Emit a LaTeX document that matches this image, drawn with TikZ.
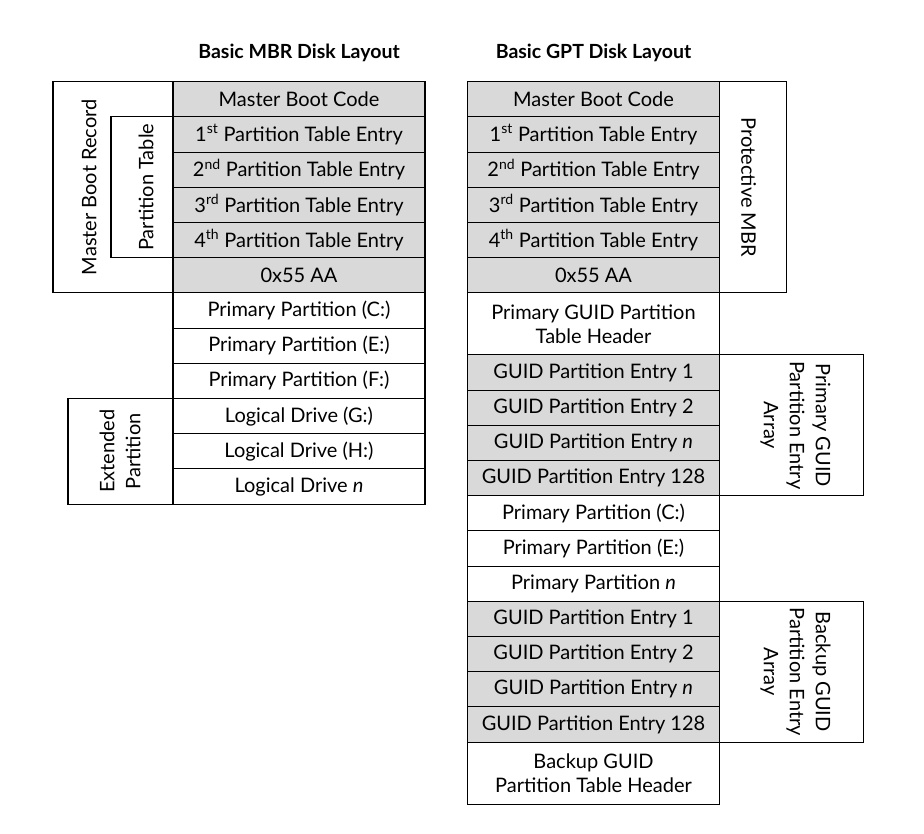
\documentclass[tikz,border=0pt]{standalone}
\usepackage{fontspec}
\setmainfont{Lato}
\usetikzlibrary{positioning,calc}

\begin{document}
\begin{tikzpicture}[x=1pt,y=-1pt,
		row/.style={rectangle, draw=black, line width=1.1pt, outer sep=0pt, inner sep=0pt,
			minimum width=252pt, minimum height=35.2pt, align=center,
			font=\fontsize{20}{24}\selectfont},
		grey/.style={row, fill=black!15},
		tall/.style={row, minimum height=62pt},
		side/.style={draw=black, line width=1.1pt},
		sidetext/.style={align=center, font=\fontsize{20}{26}\selectfont},
		title/.style={font=\bfseries\fontsize{19.5}{23}\selectfont}
	]
	\useasboundingbox (0,0) rectangle (924,834);

	% MBR layout
	\node [grey, anchor=north] (lcode) at (299,81.7) {Master Boot Code};
	\node [grey, below=0pt of lcode] (lpt1) {1\textsuperscript{st} Partition Table Entry};
	\node [grey, below=0pt of lpt1] (lpt2) {2\textsuperscript{nd} Partition Table Entry};
	\node [grey, below=0pt of lpt2] (lpt3) {3\textsuperscript{rd} Partition Table Entry};
	\node [grey, below=0pt of lpt3] (lpt4) {4\textsuperscript{th} Partition Table Entry};
	\node [grey, below=0pt of lpt4] (lsig) {0x55 AA};
	\node [row, below=0pt of lsig] (lpc) {Primary Partition (C:)};
	\node [row, below=0pt of lpc] (lpe) {Primary Partition (E:)};
	\node [row, below=0pt of lpe] (lpf) {Primary Partition (F:)};
	\node [row, below=0pt of lpf] (lldg) {Logical Drive (G:)};
	\node [row, below=0pt of lldg] (lldh) {Logical Drive (H:)};
	\node [row, below=0pt of lldh] (lldn) {Logical Drive \textit{n}};
	\node [title, above=16pt of lcode] (ltitle) {Basic MBR Disk Layout};

	\draw[side] (lcode.north west) -| ($(lsig.south west)+(-120,0)$) -- (lsig.south west);
	\node [sidetext, rotate=90] (lmbr) at ($(lcode.north west)!0.5!(lsig.south west)+(-84,0)$) {Master Boot Record};
	\draw[side] (lpt1.north west) -| ($(lpt4.south west)+(-62,0)$) -- (lpt4.south west);
	\node [sidetext, rotate=90] (lptab) at ($(lpt1.north west)!0.5!(lpt4.south west)+(-27,0)$) {Partition Table};
	\draw[side] (lldg.north west) -| ($(lldn.south west)+(-105,0)$) -- (lldn.south west);
	\node [sidetext, rotate=90] (lext) at ($(lldg.north west)!0.5!(lldn.south west)+(-53,0)$) {Extended\\Partition};

	% GPT layout
	\node [grey, anchor=north] (rcode) at (593.5,81.7) {Master Boot Code};
	\node [grey, below=0pt of rcode] (rpt1) {1\textsuperscript{st} Partition Table Entry};
	\node [grey, below=0pt of rpt1] (rpt2) {2\textsuperscript{nd} Partition Table Entry};
	\node [grey, below=0pt of rpt2] (rpt3) {3\textsuperscript{rd} Partition Table Entry};
	\node [grey, below=0pt of rpt3] (rpt4) {4\textsuperscript{th} Partition Table Entry};
	\node [grey, below=0pt of rpt4] (rsig) {0x55 AA};
	\node [tall, below=0pt of rsig] (rhead) {Primary GUID Partition\\Table Header};
	\node [grey, below=0pt of rhead] (rg1) {GUID Partition Entry 1};
	\node [grey, below=0pt of rg1] (rg2) {GUID Partition Entry 2};
	\node [grey, below=0pt of rg2] (rgn) {GUID Partition Entry \textit{n}};
	\node [grey, below=0pt of rgn] (rg128) {GUID Partition Entry 128};
	\node [row, below=0pt of rg128] (rpc) {Primary Partition (C:)};
	\node [row, below=0pt of rpc] (rpe) {Primary Partition (E:)};
	\node [row, below=0pt of rpe] (rpn) {Primary Partition \textit{n}};
	\node [grey, below=0pt of rpn] (rb1) {GUID Partition Entry 1};
	\node [grey, below=0pt of rb1] (rb2) {GUID Partition Entry 2};
	\node [grey, below=0pt of rb2] (rbn) {GUID Partition Entry \textit{n}};
	\node [grey, below=0pt of rbn] (rb128) {GUID Partition Entry 128};
	\node [tall, below=0pt of rb128] (rbhead) {Backup GUID\\Partition Table Header};
	\node [title, above=16pt of rcode] (rtitle) {Basic GPT Disk Layout};

	\draw[side] (rcode.north east) -| ($(rsig.south east)+(67,0)$) -- (rsig.south east);
	\node [sidetext, rotate=-90] (rpmbr) at ($(rcode.north east)!0.5!(rsig.south east)+(29,0)$) {Protective MBR};
	\draw[side] (rg1.north east) -| ($(rg128.south east)+(144,0)$) -- (rg128.south east);
	\node [sidetext, rotate=-90] (rparr) at ($(rg1.north east)!0.5!(rg128.south east)+(76,0)$) {Primary GUID\\Partition Entry\\Array};
	\draw[side] (rb1.north east) -| ($(rb128.south east)+(144,0)$) -- (rb128.south east);
	\node [sidetext, rotate=-90] (rbarr) at ($(rb1.north east)!0.5!(rb128.south east)+(76,0)$) {Backup GUID\\Partition Entry\\Array};

\end{tikzpicture}
\end{document}
